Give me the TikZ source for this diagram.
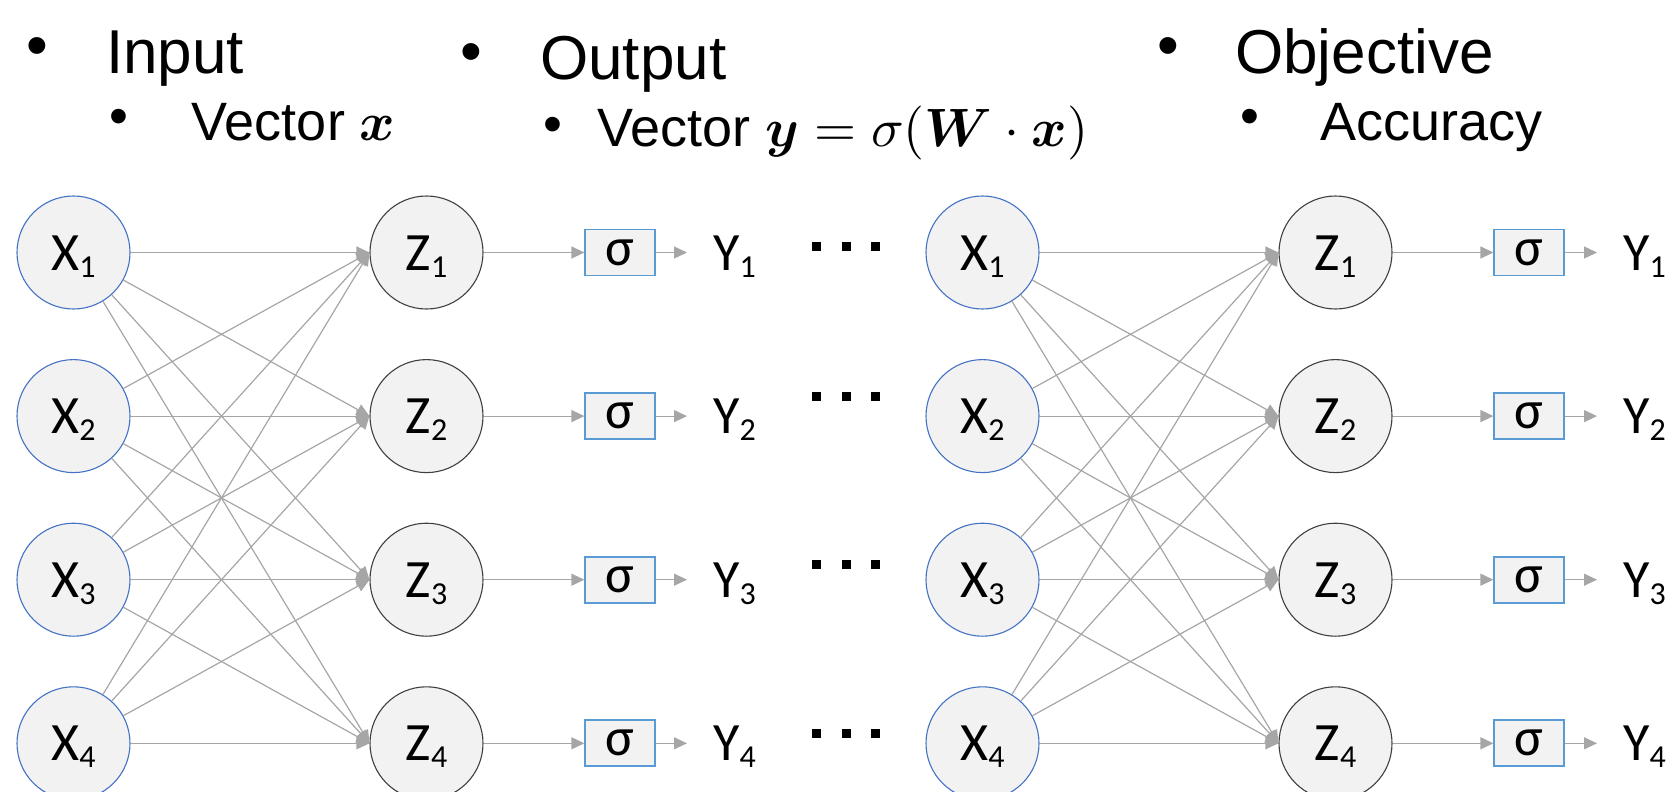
\documentclass[tikz,border=0pt]{standalone}
\usepackage{amsmath,bm}
\usepackage{fontspec}
\setmainfont{Liberation Sans}
\newfontfamily\calfont{Carlito}
\usetikzlibrary{arrows.meta}
\definecolor{nodefill}{HTML}{F2F2F2}
\definecolor{xblue}{HTML}{4472C4}
\definecolor{zgray}{HTML}{404040}
\definecolor{lgray}{HTML}{A6A6A6}
\definecolor{sblue}{HTML}{5B9BD5}
\newcommand{\lsub}[2]{#1\raisebox{-7pt}{\fontsize{32}{32}\selectfont #2}}
\newcommand{\bigmath}[1]{\scalebox{5.4}{\fontsize{10}{12}\selectfont$#1$}}
\begin{document}
\begin{tikzpicture}[x=1pt,y=-1pt,
  labfont/.style={font=\calfont\fontsize{54}{54}\selectfont},
  xnode/.style={circle, draw=xblue, line width=1.1pt, fill=nodefill, minimum size=113pt,
    inner sep=0pt, labfont, text height=35pt, text depth=0pt},
  znode/.style={xnode, draw=zgray},
  sbox/.style={rectangle, draw=sblue, line width=1.8pt, fill=nodefill, minimum width=70pt,
    minimum height=46pt, inner sep=0pt, labfont, text height=25pt, text depth=0pt},
  ylab/.style={anchor=west, inner sep=0pt, labfont, text height=35pt, text depth=0pt},
  conn/.style={draw=lgray, line width=1.2pt, -{Triangle[length=13pt,width=12pt]}},
  hdr/.style={anchor=base west, inner sep=0pt, font=\fontsize{62}{62}\selectfont},
  subhdr/.style={anchor=base west, inner sep=0pt, font=\fontsize{54}{54}\selectfont},
  bul/.style={inner sep=0pt, font=\fontsize{62}{62}\selectfont},
  sbul/.style={inner sep=0pt, font=\fontsize{54}{54}\selectfont},
  dotsq/.style={rectangle, fill=black, minimum size=9pt, inner sep=0pt}
]
\useasboundingbox (0,0) rectangle (1678,792);
\clip (0,0) rectangle (1678,792);

% header
\node[bul] (b1) at (37.3,51.7) {•};
\node[hdr] (tin) at (106,74) {Input};
\node[sbul] (b2) at (119,121.7) {•};
\node[subhdr] (tvx) at (191.7,140) {Vector \bigmath{\bm{x}}};
\node[bul] (b3) at (471.7,58.3) {•};
\node[hdr] (tout) at (540,80) {Output};
\node[sbul] (b4) at (553,130) {•};
\node[subhdr] (tvy) at (597,146.7) {Vector \bigmath{\bm{y}=\sigma(\bm{W}\cdot\bm{x})}};
\node[bul] (b5) at (1168,51.7) {•};
\node[hdr] (tobj) at (1235,74) {Objective};
\node[sbul] (b6) at (1250,121.7) {•};
\node[subhdr] (tacc) at (1320,140) {Accuracy};

% nodes
\foreach \i/\yy in {1/252.5,2/416.1,3/579.7,4/743.3}{
  \node[xnode] (xa\i) at (73.5,\yy) {\lsub{X}{\i}};
  \node[znode] (za\i) at (426.5,\yy) {\lsub{Z}{\i}};
  \node[sbox] (sa\i) at (620.3,\yy) {σ};
  \node[ylab] (ya\i) at (713,\yy) {\lsub{Y}{\i}};
  \node[xnode] (xb\i) at (982.5,\yy) {\lsub{X}{\i}};
  \node[znode] (zb\i) at (1335.5,\yy) {\lsub{Z}{\i}};
  \node[sbox] (sb\i) at (1529.3,\yy) {σ};
  \node[ylab] (yb\i) at (1623,\yy) {\lsub{Y}{\i}};
}

% dots
\foreach \i/\yy in {1/246.7,2/396.7,3/564.5,4/733}{
  \node[dotsq] (da\i) at (816,\yy) {};
  \node[dotsq] (db\i) at (846,\yy) {};
  \node[dotsq] (dc\i) at (875.5,\yy) {};
}

% connectors
\foreach \i in {1,...,4}{
  \foreach \j in {1,...,4}{
    \draw[conn] (xa\i) -- (za\j.west);
    \draw[conn] (xb\i) -- (zb\j.west);
  }
  \draw[conn] (za\i) -- (sa\i);
  \draw[conn, shorten >=26pt] (sa\i) -- (ya\i);
  \draw[conn] (zb\i) -- (sb\i);
  \draw[conn, shorten >=26pt] (sb\i) -- (yb\i);
}
\end{tikzpicture}
\end{document}
